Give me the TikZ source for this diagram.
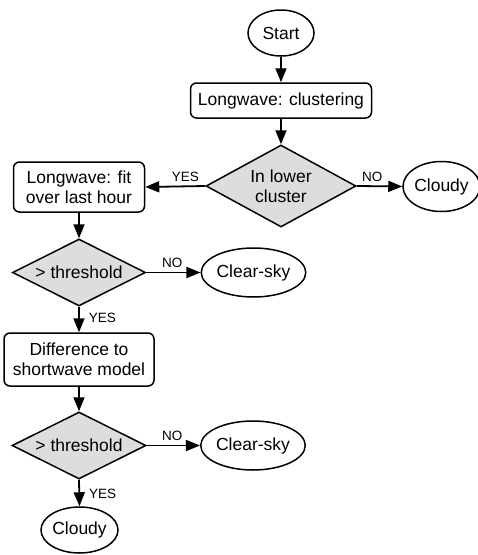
\documentclass[tikz,border=0pt]{standalone}
\usepackage{fontspec}
\setmainfont{Liberation Sans}
\usetikzlibrary{shapes.geometric,arrows.meta}
\definecolor{dgray}{HTML}{DDDDDD}
\begin{document}
\begin{tikzpicture}[x=1pt,y=-1pt,
  every node/.style={font=\fontsize{17.5}{20}\selectfont, align=center, inner sep=0pt},
  term/.style={ellipse, draw, line width=1.5pt},
  proc/.style={rectangle, rounded corners=6pt, draw, line width=1.5pt},
  dec/.style={diamond, draw, fill=dgray, line width=1.5pt},
  conn/.style={line width=1.8pt, -{Triangle[length=14pt,width=11pt]}},
  lbl/.style={font=\fontsize{13.5}{15}\selectfont, inner sep=0pt}
]
\useasboundingbox (0,0) rectangle (478,555);
\node[term, minimum width=66pt, minimum height=46pt] (start) at (281,33) {Start};
\node[proc, minimum width=181pt, minimum height=35pt] (clus) at (281,100.5) {Longwave: clustering};
\node[dec, shape aspect=1.83, minimum width=150pt, minimum height=82pt] (low) at (281,186) {In lower\\cluster};
\node[term, minimum width=71pt, minimum height=50pt] (cloudy1) at (441.5,186.5) {Cloudy};
\node[proc, minimum width=131pt, minimum height=50pt] (fit) at (79,187) {Longwave: fit\\over last hour};
\node[dec, shape aspect=2, minimum width=133pt, minimum height=67pt] (th1) at (79,272.5) {> threshold};
\node[term, minimum width=103pt, minimum height=49pt] (clear1) at (253.5,272.5) {Clear-sky};
\node[proc, minimum width=150pt, minimum height=53pt] (diff) at (79,359.5) {Difference to\\shortwave model};
\node[dec, shape aspect=2, minimum width=134pt, minimum height=67pt] (th2) at (79,445.5) {> threshold};
\node[term, minimum width=102pt, minimum height=49pt] (clear2) at (253,445.5) {Clear-sky};
\node[term, minimum width=75pt, minimum height=46pt] (cloudy2) at (79.5,530) {Cloudy};

\draw[conn] (start) -- (clus);
\draw[conn] (clus) -- (low);
\draw[conn] (low.west) -- node[lbl, pos=0.33, above=4pt] {YES} (fit.east);
\draw[conn] (low.east) -- node[lbl, pos=0.34, above=4pt] {NO} (cloudy1.west);
\draw[conn] (fit) -- (th1);
\draw[conn] (th1.east) -- node[lbl, pos=0.48, above=4pt] {NO} (clear1.west);
\draw[conn] (th1.south) -- node[lbl, pos=0.43, right=9pt] {YES} (diff.north);
\draw[conn] (diff) -- (th2);
\draw[conn] (th2.east) -- node[lbl, pos=0.48, above=4pt] {NO} (clear2.west);
\draw[conn] (th2.south) -- node[lbl, pos=0.55, right=9pt] {YES} (cloudy2.north);
\end{tikzpicture}
\end{document}
